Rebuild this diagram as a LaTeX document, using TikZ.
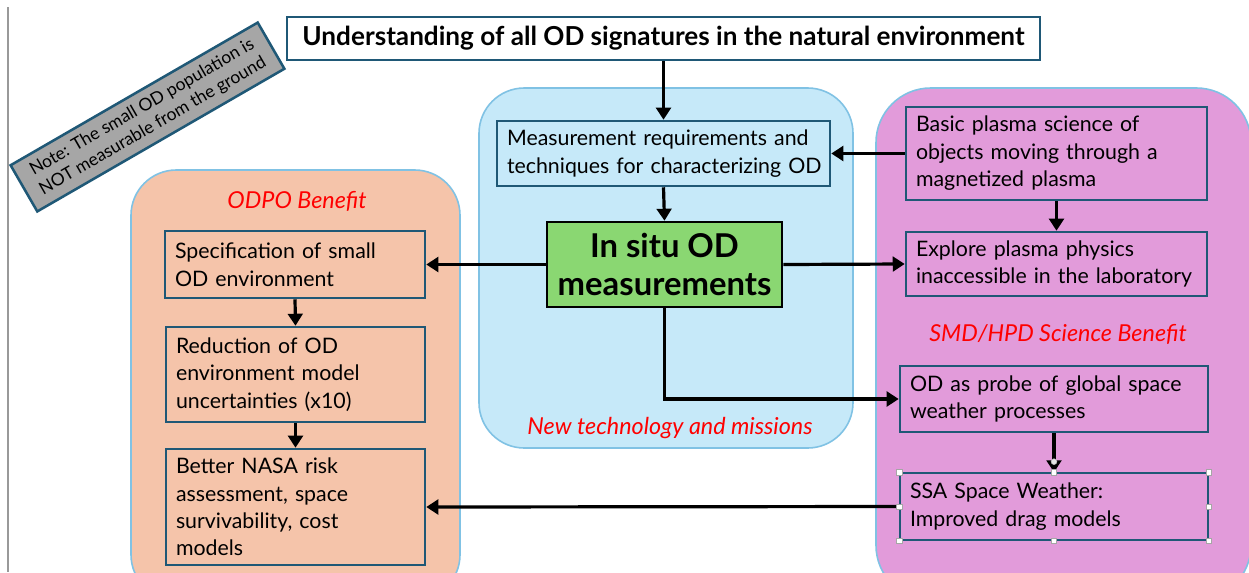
\documentclass[tikz,border=0pt]{standalone}
\usepackage{fontspec}
\setmainfont{Lato}
\usetikzlibrary{arrows.meta}

\definecolor{boxedge}{RGB}{31,88,118}
\definecolor{regionedge}{RGB}{128,194,228}
\definecolor{bluefill}{RGB}{198,233,249}
\definecolor{salmonfill}{RGB}{245,196,170}
\definecolor{pinkfill}{RGB}{226,155,218}
\definecolor{greenfill}{RGB}{138,215,114}
\definecolor{notefill}{RGB}{166,166,166}
\definecolor{benefitred}{RGB}{255,0,0}

\begin{document}
\begin{tikzpicture}[x=0.75pt,y=-0.75pt,
  bodytext/.style={font=\fontsize{16}{20.6}\selectfont},
  box/.style={draw=boxedge, line width=1.9pt, align=left, inner xsep=7.5pt,
              inner ysep=2pt, bodytext},
  region/.style={draw=regionedge, line width=1.2pt},
  benefit/.style={text=benefitred, font=\fontsize{17.5}{20}\selectfont\itshape},
  conn/.style={line width=2.4pt, -{Triangle[length=9pt,width=11pt]}},
  handle/.style={draw=gray!70, fill=white, line width=0.4pt, minimum size=4pt, inner sep=0pt}
]
\useasboundingbox (0,0) rectangle (1249,572);
\clip (0,0) rectangle (1249,572);

% page margin rule
\draw[gray!80, line width=0.8pt] (8,7) -- (8,572);

% grouping regions
\draw[region, fill=bluefill, rounded corners=34pt] (479,88) rectangle (853,448);
\draw[region, fill=salmonfill, rounded corners=34pt] (131,170) rectangle (460,600);
\draw[region, fill=pinkfill, rounded corners=41pt] (876,88) rectangle (1251,600);

% side note
\node[draw=boxedge, line width=1.9pt, fill=notefill, rotate=30,
      minimum width=214pt, minimum height=40pt, align=center, inner sep=1pt,
      font=\fontsize{13.1}{16}\selectfont] (note) at (147.5,117)
      {Note: The small OD population is\\NOT measurable from the ground};

% top goal
\node[box, fill=white, align=center, minimum width=564.75pt, minimum height=32.25pt,
      font=\fontsize{19.6}{22}\selectfont\bfseries] (goal) at (663.5,38.5)
      {Understanding of all OD signatures in the natural environment};

% centre column
\node[box, fill=bluefill, minimum width=249.75pt, minimum height=48.75pt,
      inner xsep=5pt, text width=239.75pt] (meas) at (663.5,153.5)
      {\hspace*{2.5pt}Measurement requirements and\\\hspace*{2.5pt}techniques for characterizing OD};
\node[draw=black, line width=1.9pt, fill=greenfill, align=center,
      minimum width=176.25pt, minimum height=63.75pt, inner sep=1pt,
      font=\fontsize{24.6}{29}\selectfont\bfseries] (insitu) at (664.5,264.5)
      {In situ OD\\measurements};
\node[benefit] (newtech) at (670,428) {New technology and missions};

% left column
\node[benefit] (odpo) at (297,201) {ODPO Benefit};
\node[box, fill=salmonfill, minimum width=195pt, minimum height=50.25pt,
      text width=180pt] (spec) at (295,264.5)
      {Specification of small\\OD environment};
\node[box, fill=salmonfill, minimum width=194.25pt, minimum height=71.25pt,
      text width=179.25pt] (reduc) at (295.5,374.5)
      {Reduction of OD\\environment model\\uncertainties (x10)};
\node[box, fill=salmonfill, minimum width=194.25pt, minimum height=87pt,
      text width=179.25pt] (risk) at (295.5,507)
      {Better NASA risk\\assessment, space\\survivability, cost\\models};

% right column
\node[box, fill=pinkfill, minimum width=225.75pt, minimum height=69.75pt,
      text width=210.75pt] (basic) at (1056.5,153.5)
      {Basic plasma science of\\objects moving through a\\magnetized plasma};
\node[box, fill=pinkfill, minimum width=225.75pt, minimum height=48pt,
      text width=210.75pt] (explore) at (1056.5,264)
      {Explore plasma physics\\inaccessible in the laboratory};
\node[benefit] (smd) at (1058,334) {SMD/HPD Science Benefit};
\node[box, fill=pinkfill, minimum width=231pt, minimum height=49.5pt,
      text width=216pt] (probe) at (1054,399)
      {OD as probe of global space\\weather processes};
\node[box, fill=pinkfill, line width=1pt, minimum width=231pt, minimum height=50.25pt,
      text width=216pt] (ssa) at (1054,506.5)
      {SSA Space Weather:\\Improved drag models};

% connectors
\draw[conn] (goal.south -| meas.north) -- (meas.north);
\draw[conn] (meas.south) -- (insitu.north);
\draw[conn] (basic.west) -- (meas.east);
\draw[conn] (insitu.west) -- (spec.east);
\draw[conn] (insitu.east) -- (explore.west);
\draw[conn] (insitu.south) |- (probe.west);
\draw[conn] (spec.south) -- (reduc.north);
\draw[conn] (reduc.south) -- (risk.north);
\draw[conn] (basic.south) -- (explore.north);
\draw[conn] (probe.south) -- (ssa.north);
\draw[conn] (ssa.west) -- (risk.east);

% selection handles on the drag-model box
\foreach \a in {north west,north,north east,east,south east,south,south west,west}
  \node[handle] at (ssa.\a) {};
\draw[gray!60, fill=white!80!gray, line width=0.4pt] ([yshift=8pt]ssa.north) circle (2.2pt);
\end{tikzpicture}
\end{document}
